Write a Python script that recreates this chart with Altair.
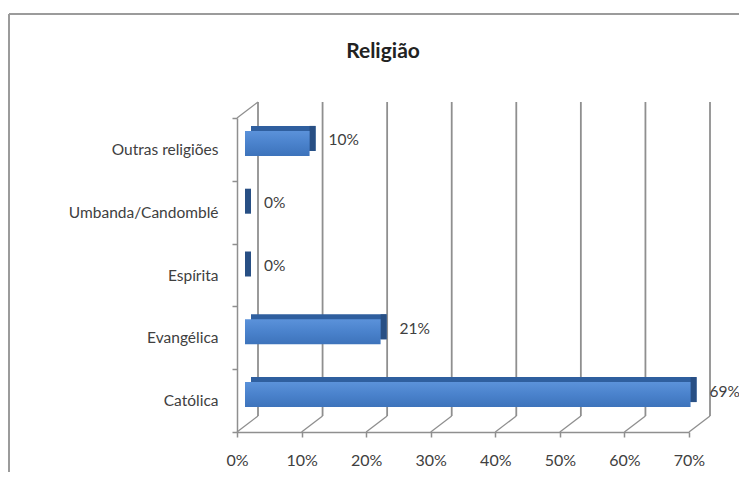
import altair as alt
import pandas as pd

categories = ["Católica", "Evangélica", "Espírita", "Umbanda/Candomblé", "Outras religiões"]
values = [0.69, 0.21, 0.0, 0.0, 0.10]
ticks = [0.0, 0.1, 0.2, 0.3, 0.4, 0.5, 0.6, 0.7]
order = list(reversed(categories))
title_text = "Religião"

FONT = "Lato"
TXT = "#404040"
GRID = "#8f8f8f"
DX, DY = 21, 16          # depth offset of back wall
W, H = 452, 314

bars = pd.DataFrame({"cat": categories, "value": values})
tk = pd.DataFrame({"tick": ticks})

xs = alt.Scale(domain=[0, 0.7], nice=False, zero=False)
ys = alt.Scale(domain=order, paddingInner=0, paddingOuter=0)

x_axis = alt.Axis(values=ticks, format=".0%", grid=False, domainColor=GRID,
                  domainWidth=1.5, tickColor=GRID, tickWidth=1.5, tickSize=5, labelPadding=15,
                  labelFontSize=16, labelColor=TXT, labelFont=FONT, title=None,
                  labelFlush=False, labelOverlap=False)
y_axis = alt.Axis(tickBand="extent", domainColor=GRID, domainWidth=1.5, tickWidth=1.5,
                  tickColor=GRID, tickSize=5, labelPadding=14, labelFontSize=15.5,
                  labelColor=TXT, labelFont=FONT, title=None)

# invisible layer carrying the axes
axes = alt.Chart(bars).mark_point(opacity=0).encode(
    x=alt.X("value:Q", scale=xs, axis=x_axis),
    y=alt.Y("cat:N", scale=ys, sort=order, axis=y_axis),
)

# back wall gridlines
grid = alt.Chart(tk).mark_rule(color=GRID, strokeWidth=1.8, xOffset=DX, x2Offset=DX).encode(
    x=alt.X("tick:Q", scale=xs),
    y=alt.value(-DY), y2=alt.value(H - DY),
)
# floor diagonals
floor = alt.Chart(tk).mark_rule(color=GRID, strokeWidth=1.3, x2Offset=DX).encode(
    x=alt.X("tick:Q", scale=xs),
    x2=alt.X2("tick"),
    y=alt.value(H), y2=alt.value(H - DY),
)
# left wall top diagonal
walltop = alt.Chart(pd.DataFrame({"tick": [0.0]})).mark_rule(color=GRID, strokeWidth=1.3, x2Offset=DX).encode(
    x=alt.X("tick:Q", scale=xs),
    x2=alt.X2("tick"),
    y=alt.value(0), y2=alt.value(-DY),
)

BH = 25
front_off = 8
depth_x, depth_y = 6, 5
center_shift = -6

base = alt.Chart(bars)
back_face = base.mark_bar(color="#2f5f9f", height=BH,
                          xOffset=front_off + depth_x, x2Offset=front_off + depth_x,
                          yOffset=center_shift - depth_y).encode(
    x=alt.X("value:Q", scale=xs),
    x2=alt.datum(0),
    y=alt.Y("cat:N", scale=ys, sort=order),
)
side_face = base.mark_bar(color="#284f84", height=BH,
                          xOffset=front_off + depth_x, x2Offset=front_off,
                          yOffset=center_shift - depth_y).encode(
    x=alt.X("value:Q", scale=xs),
    x2=alt.X2("value"),
    y=alt.Y("cat:N", scale=ys, sort=order),
)
front_face = base.mark_bar(
    height=BH, xOffset=front_off, x2Offset=front_off, yOffset=center_shift,
    color=alt.Gradient(gradient="linear", x1=0, y1=0, x2=0, y2=1,
                       stops=[alt.GradientStop(color="#5b92da", offset=0),
                              alt.GradientStop(color="#4a82cc", offset=0.5),
                              alt.GradientStop(color="#3d73bb", offset=1)]),
).encode(
    x=alt.X("value:Q", scale=xs),
    x2=alt.datum(0),
    y=alt.Y("cat:N", scale=ys, sort=order),
)
labels = base.mark_text(align="left", baseline="middle", dx=27, yOffset=-9,
                        fontSize=15.5, color=TXT, font=FONT).encode(
    x=alt.X("value:Q", scale=xs),
    y=alt.Y("cat:N", scale=ys, sort=order),
    text=alt.Text("value:Q", format=".0%"),
)
title = alt.Chart(pd.DataFrame({"t": [title_text]})).mark_text(
    align="center", baseline="middle", fontSize=21, fontWeight="bold", color="#222222", font=FONT
).encode(x=alt.value(146), y=alt.value(-66), text="t:N")

frame_top = alt.Chart(pd.DataFrame({"a": [0]})).mark_rule(color="#9b9b9b", strokeWidth=2).encode(
    x=alt.value(-228), x2=alt.value(520), y=alt.value(-104))
frame_left = alt.Chart(pd.DataFrame({"a": [0]})).mark_rule(color="#9b9b9b", strokeWidth=2).encode(
    x=alt.value(-228), y=alt.value(-104), y2=alt.value(380))

chart = alt.layer(
    axes, frame_top, frame_left, grid, floor, walltop, back_face, side_face, front_face, labels, title
).properties(
    width=W, height=H,
    autosize=alt.AutoSizeParams(type="none"),
    padding={"left": 229, "top": 110, "right": 50, "bottom": 40},
    background="white",
).configure_view(strokeWidth=0, stroke="transparent")

chart.save("out.html", embed_options={"renderer": "svg", "actions": False})
